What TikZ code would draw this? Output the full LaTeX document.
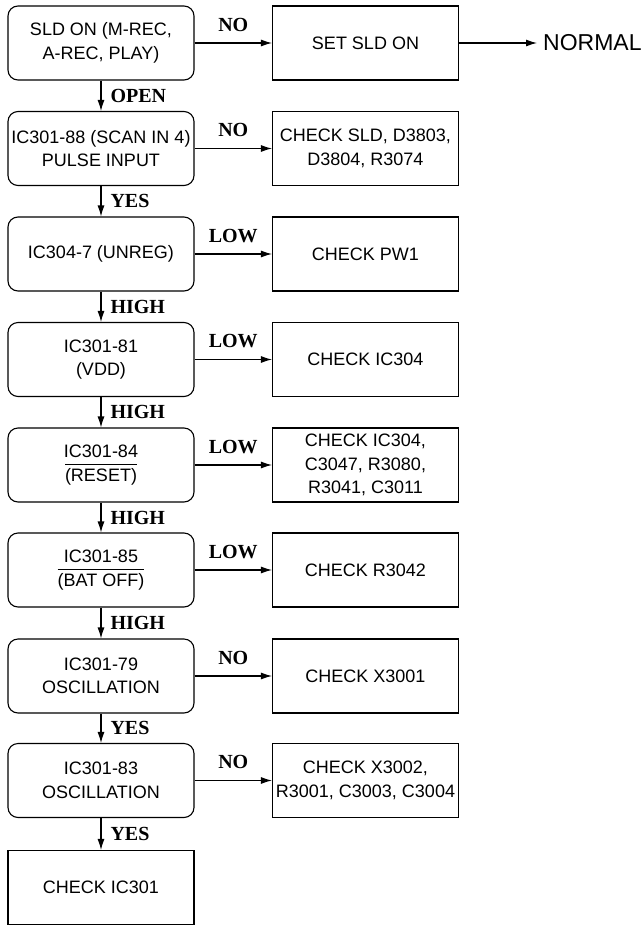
\documentclass[tikz,border=0pt]{standalone}
\usepackage{fontspec}
\setmainfont{Liberation Sans}
\newfontfamily\lblfont{Liberation Serif}
\usetikzlibrary{arrows.meta}
\newcommand\ovl[1]{\setbox0\hbox{#1}\rlap{\raisebox{\dimexpr\ht0+3pt\relax}{\rule{\wd0}{1pt}}}\box0}
\begin{document}
\begin{tikzpicture}[x=1pt,y=-1pt,
  base/.style={draw, line width=1.1pt, minimum width=186pt, minimum height=74pt, align=center, inner sep=1pt, font=\fontsize{18}{23.5}\selectfont},
  decbox/.style={base, rounded corners=10pt},
  chkbox/.style={base},
  arr/.style={line width=1.1pt, -{Latex[length=11pt,width=7pt]}},
  lbl/.style={font=\lblfont\bfseries\fontsize{20}{24}\selectfont, inner sep=0pt}
]
\useasboundingbox (0,0) rectangle (642,927);
% left column
\node[decbox] (d1) at (101,43) {SLD ON (M-REC,\\A-REC, PLAY)};
\node[decbox] (d2) at (101,148.5) {IC301-88 (SCAN IN 4)\\PULSE INPUT};
\node[decbox] (d3) at (101,254) {IC304-7 (UNREG)};
\node[decbox] (d4) at (101,359.5) {IC301-81\\(VDD)};
\node[decbox] (d5) at (101,465) {IC301-84\\\ovl{(RESET)}};
\node[decbox] (d6) at (101,570) {IC301-85\\\ovl{(BAT OFF)}};
\node[decbox] (d7) at (101,676) {IC301-79\\OSCILLATION};
\node[decbox] (d8) at (101,780.5) {IC301-83\\OSCILLATION};
\node[chkbox] (c9) at (101,887.5) {CHECK IC301};
% right column
\node[chkbox] (r1) at (365.5,43) {SET SLD ON};
\node[chkbox] (r2) at (365.5,148.5) {CHECK SLD, D3803,\\D3804, R3074};
\node[chkbox] (r3) at (365.5,254) {CHECK PW1};
\node[chkbox] (r4) at (365.5,359.5) {CHECK IC304};
\node[chkbox] (r5) at (365.5,465) {CHECK IC304,\\C3047, R3080,\\R3041, C3011};
\node[chkbox] (r6) at (365.5,570) {CHECK R3042};
\node[chkbox] (r7) at (365.5,676) {CHECK X3001};
\node[chkbox] (r8) at (365.5,780.5) {CHECK X3002,\\R3001, C3003, C3004};
\node[anchor=west, inner xsep=6pt, inner ysep=0pt, font=\fontsize{23}{27}\selectfont] (norm) at (537,43) {NORMAL};
% vertical connectors
\draw[arr] (d1.south) -- node[lbl, right=9pt]{OPEN} (d2.north);
\draw[arr] (d2.south) -- node[lbl, right=9pt]{YES} (d3.north);
\draw[arr] (d3.south) -- node[lbl, right=9pt]{HIGH} (d4.north);
\draw[arr] (d4.south) -- node[lbl, right=9pt]{HIGH} (d5.north);
\draw[arr] (d5.south) -- node[lbl, right=9pt]{HIGH} (d6.north);
\draw[arr] (d6.south) -- node[lbl, right=9pt]{HIGH} (d7.north);
\draw[arr] (d7.south) -- node[lbl, right=9pt]{YES} (d8.north);
\draw[arr] (d8.south) -- node[lbl, right=9pt]{YES} (c9.north);
% horizontal connectors
\draw[arr] (d1.east) -- node[lbl, above=11pt]{NO} (r1.west);
\draw[arr] (d2.east) -- node[lbl, above=11pt]{NO} (r2.west);
\draw[arr] (d3.east) -- node[lbl, above=11pt]{LOW} (r3.west);
\draw[arr] (d4.east) -- node[lbl, above=11pt]{LOW} (r4.west);
\draw[arr] (d5.east) -- node[lbl, above=11pt]{LOW} (r5.west);
\draw[arr] (d6.east) -- node[lbl, above=11pt]{LOW} (r6.west);
\draw[arr] (d7.east) -- node[lbl, above=11pt]{NO} (r7.west);
\draw[arr] (d8.east) -- node[lbl, above=11pt]{NO} (r8.west);
\draw[arr] (r1.east) -- (norm.west);
\end{tikzpicture}
\end{document}
